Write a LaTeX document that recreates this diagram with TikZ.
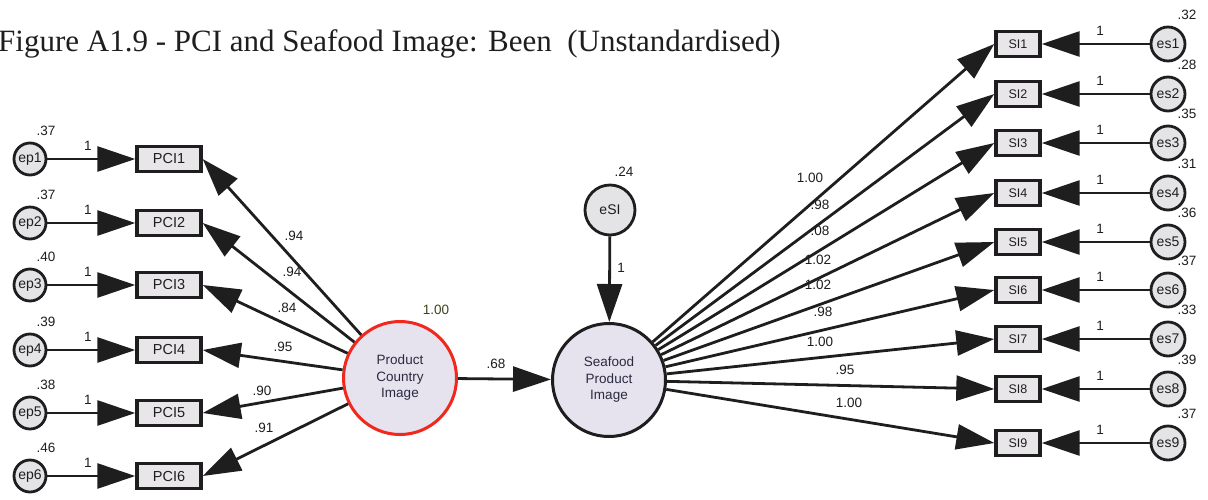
\documentclass[tikz,border=0pt]{standalone}
\usepackage{fontspec}
\setmainfont{Liberation Serif}
\setsansfont{Liberation Sans}
\usetikzlibrary{arrows.meta}
\definecolor{ink}{HTML}{1E1E1E}
\definecolor{boxfill}{HTML}{E8E6E8}
\definecolor{errfill}{HTML}{E4E4E6}
\definecolor{latfill}{HTML}{E6E2EE}
\definecolor{pcired}{HTML}{F0281E}
\definecolor{olive}{HTML}{3C461E}
\definecolor{navy}{HTML}{2A2A40}

\begin{document}
\begin{tikzpicture}[x=1pt,y=-1pt,
  reg/.style={line width=2.8pt, draw=ink, -{Triangle[length=38pt,width=25pt]}},
  errc/.style={circle, draw=ink, line width=2.8pt, fill=errfill, minimum size=32pt,
    inner sep=0pt, font=\sffamily\fontsize{14}{14}\selectfont, text=ink},
  pcibox/.style={rectangle, draw=ink, line width=3.4pt, fill=boxfill, minimum height=25pt,
    minimum width=64pt, inner sep=0pt, font=\sffamily\fontsize{14.5}{14.5}\selectfont, text=ink},
  sibox/.style={pcibox, minimum width=44pt, font=\sffamily\fontsize{12.5}{12.5}\selectfont},
  latc/.style={circle, line width=3pt, fill=latfill, minimum size=113pt, inner sep=0pt,
    align=center, font=\sffamily\fontsize{13.5}{16.5}\selectfont, text=navy},
  lbl/.style={font=\sffamily\fontsize{13.5}{13.5}\selectfont, inner sep=0pt, text=ink}
]
\useasboundingbox[fill=white] (0,0) rectangle (1208,499);

% title
\node[anchor=base west, inner sep=0pt, font=\fontsize{31}{31}\selectfont, text=ink]
  (title) at (-2,51) {Figure A1.9 - PCI and Seafood Image: Been\ \ (Unstandardised)};

% latent variables
\node[latc, draw=pcired] (pci) at (400,378) {Product\\Country\\Image};
\node[latc, draw=ink] (sea) at (609,380) {Seafood\\Product\\Image};
\node[errc, minimum size=50pt] (esi) at (610,210) {eSI};

% PCI indicators and their error terms
\foreach \i/\y/\v/\l/\lx/\ly in {1/159/.37/.94/294/236, 2/223/.37/.94/292/272,
    3/285/.40/.84/287/308, 4/350/.39/.95/283/347, 5/413/.38/.90/262/391, 6/476/.46/.91/264/428}{
  \node[errc] (ep\i) at (30,\y) {ep\i};
  \node[pcibox] (pci\i) at (169,\y) {PCI\i};
  \node[lbl] (vp\i) at (46,\y-28) {\v};
  \node[lbl] (op\i) at (88,\y-13) {1};
  \node[lbl] (lp\i) at (\lx,\ly) {\l};
  \draw[reg] (ep\i) -- (pci\i.west);
  \draw[reg] (pci) -- (pci\i.east);
}

% SI indicators and their error terms
\foreach \i/\y/\v/\l/\lx/\ly in {1/44/.32/1.00/810/178, 2/94/.28/.98/820/205,
    3/143/.35/.08/820/231, 4/193/.31/1.02/818/260, 5/242/.36/1.02/818/285,
    6/290/.37/.98/823/312, 7/339/.33/1.00/820/342, 8/389/.39/.95/845/370, 9/443/.37/1.00/849/403}{
  \node[errc, minimum size=34pt] (es\i) at (1168,\y) {es\i};
  \node[sibox] (si\i) at (1018,\y) {SI\i};
  \node[lbl] (vs\i) at (1187,\y-29) {\v};
  \node[lbl] (os\i) at (1100,\y-13) {1};
  \node[lbl] (ls\i) at (\lx,\ly) {\l};
  \draw[reg] (es\i) -- (si\i.east);
  \draw[reg] (sea) -- (si\i.west);
}

% structural paths
\draw[reg] (pci) -- (sea);
\draw[reg] (esi) -- (sea);
\node[lbl] (b68) at (496,364) {.68};
\node[lbl, text=olive] (vpci) at (436,310) {1.00};
\node[lbl] (vsi) at (624,172) {.24};
\node[lbl] (osi) at (621,268) {1};
\end{tikzpicture}
\end{document}
